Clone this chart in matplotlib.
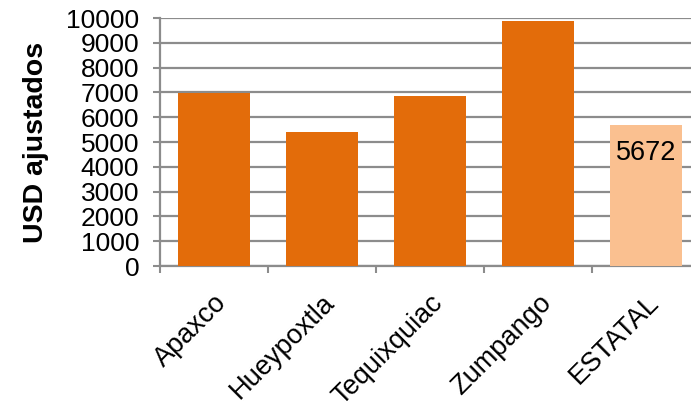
import matplotlib
matplotlib.use("Agg")
import matplotlib.pyplot as plt

# datos
municipios = ["Apaxco", "Hueypoxtla", "Tequixquiac", "Zumpango", "ESTATAL"]
valores = [6980, 5410, 6870, 9890, 5672]
colores = ["#E36C0A", "#E36C0A", "#E36C0A", "#E36C0A", "#FAC090"]
etiqueta_estatal = "5672"

plt.rcParams['font.family'] = ['Liberation Sans', 'DejaVu Sans']

fig = plt.figure(figsize=(6.91, 4.05), dpi=100)
ax = fig.add_axes([160/691, 1-266/405, 540/691, 248/405])

x = range(len(municipios))
barras = ax.bar(x, valores, width=0.67, color=colores, zorder=3)

ax.set_xlim(-0.5, len(municipios)-0.5)
ax.set_ylim(0, 10000)
ax.set_yticks(range(0, 10001, 1000))
ax.yaxis.grid(True, color="#8c8c8c", linewidth=1.6, zorder=0)

# ticks del eje x en los limites de cada categoria
ax.set_xticks([i-0.5 for i in range(len(municipios)+1)])
ax.set_xticklabels([])
ax.set_xticks(list(x), minor=True)
ax.set_xticklabels(municipios, minor=True, rotation=45, ha='right',
                   rotation_mode='anchor', fontsize=19.5)
ax.tick_params(axis='x', which='minor', length=0, pad=17)
ax.tick_params(axis='x', which='major', length=5, color="#8c8c8c", width=1.5)
ax.tick_params(axis='y', length=5, color="#8c8c8c", width=1.5, labelsize=19, pad=10)

for s in ["top", "right"]:
    ax.spines[s].set_visible(False)
for s in ["left", "bottom"]:
    ax.spines[s].set_color("#8c8c8c")
    ax.spines[s].set_linewidth(1.6)

ax.set_ylabel("USD ajustados", fontsize=20.5, fontweight='bold', labelpad=12)

ax.text(4, valores[4]-1115, etiqueta_estatal, ha='center', va='center', fontsize=19.5, zorder=4)

fig.savefig("out.png", dpi=100)
